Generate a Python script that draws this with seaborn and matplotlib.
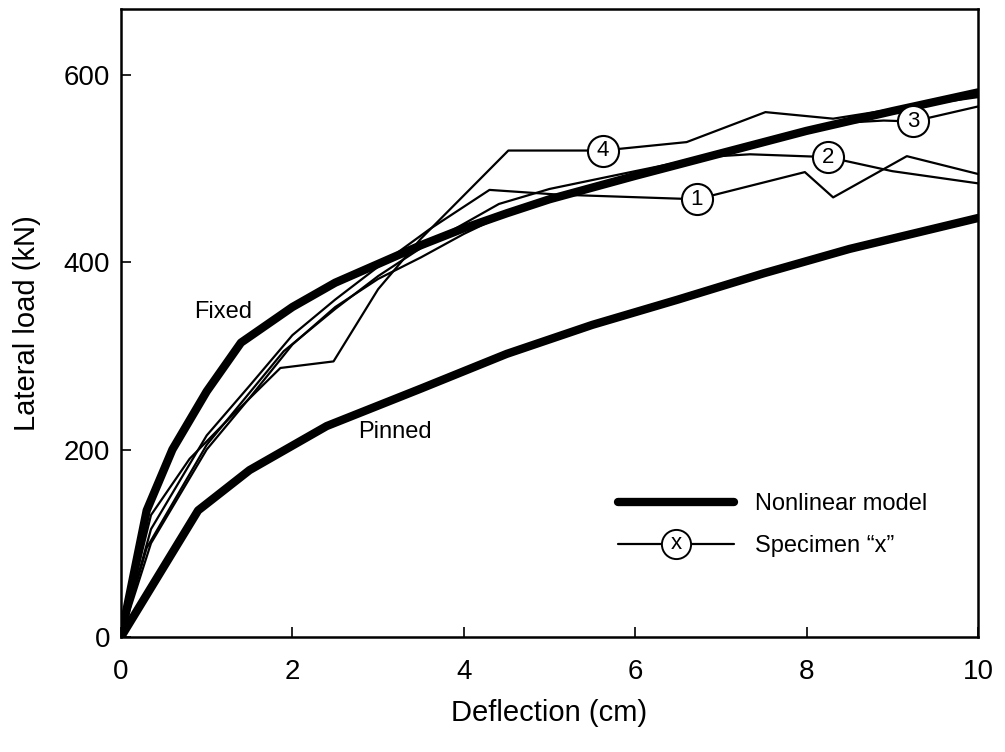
import numpy as np
import pandas as pd
import seaborn as sns
import matplotlib
matplotlib.use("Agg")
import matplotlib.pyplot as plt
from matplotlib.lines import Line2D
from matplotlib.text import Text
from matplotlib.legend_handler import HandlerBase

# ---- data ----
fixed_x = [0, 0.3, 0.6, 1.0, 1.4, 2.0, 2.5, 3.0, 3.5, 4.0, 4.5, 5.0, 6.0, 7.0, 8.0, 9.0, 10]
fixed_y = [0, 135, 200, 262, 314, 352, 378, 398, 418, 436, 452, 467, 492, 516, 540, 561, 581]

pinned_x = [0, 0.9, 1.5, 2.4, 3.5, 4.5, 5.5, 6.5, 7.5, 8.5, 10]
pinned_y = [0, 135, 178, 225, 265, 302, 333, 360, 388, 414, 447]

spec1_x = [0, 0.35, 1.0, 1.5, 2.0, 2.5, 3.0, 3.6, 4.3, 5.1, 6.72, 7.98, 8.31, 9.17, 10]
spec1_y = [0, 115, 215, 268, 322, 360, 395, 435, 477, 472, 467, 496, 469, 513, 494]

spec2_x = [0, 0.3, 1.0, 1.9, 2.5, 3.0, 3.5, 4.41, 5.0, 6.0, 6.8, 7.34, 8.25, 9.0, 10]
spec2_y = [0, 95, 205, 305, 350, 385, 415, 462, 478, 497, 512, 515, 512, 497, 484]

spec3_x = [0, 0.35, 1.0, 1.5, 2.0, 2.5, 3.0, 3.5, 4.0, 4.5, 5.5, 6.6, 7.5, 8.31, 8.9, 9.24, 10]
spec3_y = [0, 100, 200, 255, 312, 352, 382, 405, 430, 452, 478, 505, 530, 548, 551, 550, 566]

spec4_x = [0, 0.35, 0.8, 1.25, 1.86, 2.48, 3.0, 3.5, 4.52, 5.62, 6.6, 7.52, 8.31, 9.0, 10]
spec4_y = [0, 130, 190, 232, 287, 294, 371, 425, 519, 519, 528, 560, 553, 563, 576]

spec_labels = ["1", "2", "3", "4"]
spec_label_x = [6.72, 8.25, 9.24, 5.62]

x_ticks = [0, 2, 4, 6, 8, 10]
y_ticks = [0, 200, 400, 600]

# ---- style ----
sns.set_style("ticks")
plt.rcParams['font.family'] = ['Liberation Sans', 'DejaVu Sans']
plt.rcParams.update({'text.color': 'black', 'axes.labelcolor': 'black',
                     'xtick.color': 'black', 'ytick.color': 'black',
                     'axes.edgecolor': 'black'})

fig = plt.figure(figsize=(10.05, 7.52), dpi=100)
ax = fig.add_axes([0.1204, 0.153, 0.8527, 0.835])

THICK = 6.0
THIN = 1.6

# nonlinear models
for xs, ys in [(fixed_x, fixed_y), (pinned_x, pinned_y)]:
    sns.lineplot(x=xs, y=ys, ax=ax, color='black', lw=THICK, sort=False,
                 estimator=None, solid_capstyle='round', zorder=3)

# specimens
specs = [(spec1_x, spec1_y), (spec2_x, spec2_y), (spec3_x, spec3_y), (spec4_x, spec4_y)]
for xs, ys in specs:
    sns.lineplot(x=xs, y=ys, ax=ax, color='black', lw=THIN, sort=False,
                 estimator=None, zorder=4)

# circled specimen numbers sitting on their curves
lab_y = [np.interp(lx, xs, ys) for lx, (xs, ys) in zip(spec_label_x, specs)]
lab_df = pd.DataFrame({'x': spec_label_x, 'y': lab_y, 'lab': spec_labels})
sns.scatterplot(data=lab_df, x='x', y='y', ax=ax, s=500, color='white',
                edgecolor='black', linewidth=1.5, zorder=5, legend=False)
for _, r in lab_df.iterrows():
    ax.text(r.x, r.y, r.lab, ha='center', va='center', fontsize=16, zorder=6)

ax.text(1.19, 347, "Fixed", ha='center', va='center', fontsize=17)
ax.text(3.2, 219, "Pinned", ha='center', va='center', fontsize=17)


# legend: plain thick line, and thin line with a circled "x"
class CircledHandler(HandlerBase):
    def create_artists(self, legend, orig_handle, xdescent, ydescent,
                       width, height, fontsize, trans):
        y = height / 2 - ydescent
        line = Line2D([-xdescent, width - xdescent], [y, y], color='black',
                      lw=THIN, transform=trans)
        circ = Line2D([width / 2 - xdescent], [y], marker='o', ms=21,
                      mfc='white', mec='black', mew=1.4, transform=trans)
        txt = Text(width / 2 - xdescent, y, 'x', ha='center', va='center',
                   fontsize=16, transform=trans)
        return [line, circ, txt]


h_model = Line2D([], [], color='black', lw=THICK)
h_spec = Line2D([], [], color='black', lw=THIN)
ax.legend([h_model, h_spec], ["Nonlinear model", "Specimen \u201cx\u201d"],
          handler_map={h_spec: CircledHandler()},
          loc='center left', bbox_to_anchor=(0.58, 0.178), borderaxespad=0,
          borderpad=0, frameon=False, fontsize=17, handlelength=4.9,
          handletextpad=0.9, labelspacing=0.85)

ax.set_xlim(0, 10)
ax.set_ylim(0, 670)
ax.set_xticks(x_ticks)
ax.set_yticks(y_ticks)
ax.tick_params(axis='both', direction='in', length=7, width=1.2, labelsize=20)
ax.tick_params(axis='x', pad=16)
ax.tick_params(axis='y', pad=8)
for s in ax.spines.values():
    s.set_linewidth(1.8)
    s.set_visible(True)

ax.set_xlabel("Deflection (cm)", fontsize=21, labelpad=10)
ax.set_ylabel("Lateral load (kN)", fontsize=21, labelpad=16)

fig.savefig("out.png", dpi=100)
